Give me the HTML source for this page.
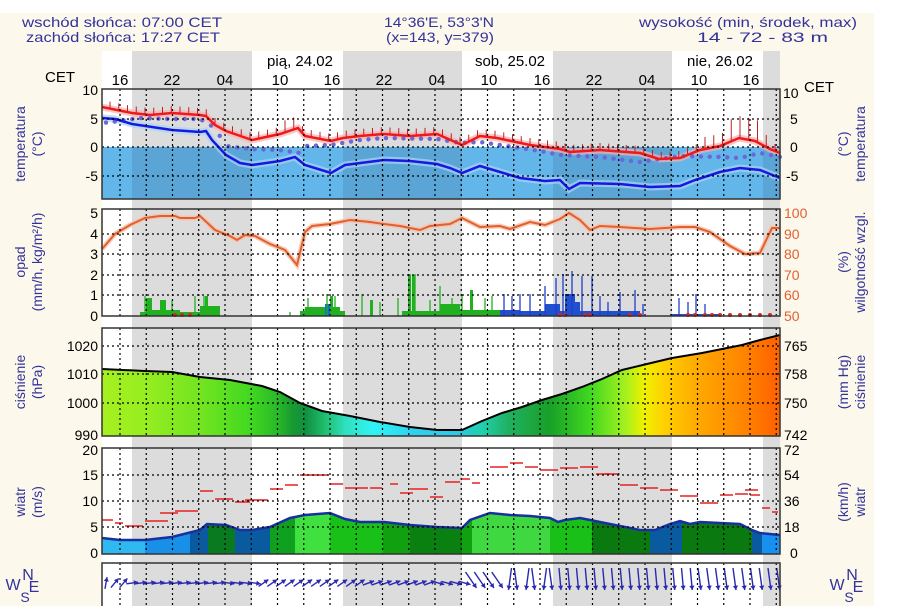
<!DOCTYPE html>
<html><head><meta charset="utf-8"><style>
html,body{margin:0;padding:0;background:#fff;}
svg{display:block;font-family:"Liberation Sans",sans-serif;}
</style></head><body>
<svg id="s" width="924" height="606" viewBox="0 0 924 606" xmlns="http://www.w3.org/2000/svg">
<defs>
<linearGradient id="pg" x1="102" x2="780" y1="0" y2="0" gradientUnits="userSpaceOnUse">
<stop offset="0" stop-color="#a6f020"/><stop offset="0.06" stop-color="#98ee20"/>
<stop offset="0.15" stop-color="#70e420"/><stop offset="0.22" stop-color="#40d820"/>
<stop offset="0.26" stop-color="#28b828"/><stop offset="0.28" stop-color="#189a30"/>
<stop offset="0.3" stop-color="#109040"/><stop offset="0.33" stop-color="#20c070"/>
<stop offset="0.36" stop-color="#30e0c0"/><stop offset="0.4" stop-color="#30f4f4"/>
<stop offset="0.46" stop-color="#30d0f0"/><stop offset="0.52" stop-color="#30c8e8"/>
<stop offset="0.56" stop-color="#20d0b0"/><stop offset="0.6" stop-color="#20b060"/>
<stop offset="0.66" stop-color="#18a028"/><stop offset="0.72" stop-color="#40d820"/>
<stop offset="0.77" stop-color="#a0f020"/><stop offset="0.8" stop-color="#f0f000"/>
<stop offset="0.83" stop-color="#ffd000"/><stop offset="0.88" stop-color="#ffa800"/>
<stop offset="0.94" stop-color="#ff8800"/><stop offset="1" stop-color="#ff6000"/>
</linearGradient>
</defs>
<rect x="0" y="13" width="874" height="593" fill="#fdf8ec"/>
<rect x="102" y="51" width="678" height="555" fill="#fff"/>
<g fill="#dcdcdc">
<rect x="132" y="51" width="120" height="555"/>
<rect x="343" y="51" width="119" height="555"/>
<rect x="553" y="51" width="119" height="555"/>
<rect x="763" y="51" width="17" height="555"/>
</g>
<g id="data"></g>
<g id="grid"></g>
<g fill="none" stroke="#333" stroke-width="1.5">
<rect x="102" y="89" width="678" height="110"/>
<rect x="102" y="209" width="678" height="107"/>
<rect x="102" y="328" width="678" height="108"/>
<rect x="102" y="448" width="678" height="106"/>
<rect x="102" y="563" width="678" height="50"/>
</g>
<g fill="#333399" font-size="14">
<text x="22" y="27" textLength="200" lengthAdjust="spacingAndGlyphs">wschód słońca: 07:00 CET</text>
<text x="26" y="42" textLength="194" lengthAdjust="spacingAndGlyphs">zachód słońca: 17:27 CET</text>
<text x="384" y="27" textLength="110" lengthAdjust="spacingAndGlyphs">14°36'E, 53°3'N</text>
<text x="386" y="42" textLength="108" lengthAdjust="spacingAndGlyphs">(x=143, y=379)</text>
<text x="639" y="27" textLength="218" lengthAdjust="spacingAndGlyphs">wysokość (min, środek, max)</text>
<text x="697" y="42" textLength="131" lengthAdjust="spacingAndGlyphs">14 - 72 - 83 m</text>
</g>
<g fill="#000" font-size="15" text-anchor="middle">
<text x="300" y="66">pią, 24.02</text>
<text x="510" y="66">sob, 25.02</text>
<text x="720" y="66">nie, 26.02</text>
<text x="120" y="85">16</text><text x="172" y="85">22</text><text x="225" y="85">04</text>
<text x="280" y="85">10</text><text x="332" y="85">16</text><text x="384" y="85">22</text>
<text x="437" y="85">04</text><text x="489" y="85">10</text><text x="542" y="85">16</text>
<text x="594" y="85">22</text><text x="647" y="85">04</text><text x="699" y="85">10</text>
<text x="751" y="85">16</text>
<text x="60" y="82" font-size="15">CET</text>
<text x="804" y="92" font-size="15" text-anchor="start">CET</text>
</g>
<g fill="#000" font-size="14" text-anchor="end">
<text x="98" y="95">10</text><text x="98" y="124">5</text><text x="98" y="152">0</text><text x="98" y="181">-5</text>
<text x="98" y="218">5</text><text x="98" y="239">4</text><text x="98" y="259">3</text><text x="98" y="280">2</text><text x="98" y="300">1</text><text x="98" y="321">0</text>
<text x="98" y="351">1020</text><text x="98" y="379">1010</text><text x="98" y="408">1000</text><text x="98" y="440">990</text>
<text x="98" y="455">20</text><text x="98" y="480">15</text><text x="98" y="506">10</text><text x="98" y="532">5</text><text x="98" y="558">0</text>
</g>
<g fill="#000" font-size="14" text-anchor="start">
<text x="783" y="98">10</text><text x="790" y="124">5</text><text x="790" y="152">0</text><text x="786" y="181">-5</text>
<text x="784" y="351">765</text><text x="784" y="379">758</text><text x="784" y="408">750</text><text x="784" y="440">742</text>
<text x="784" y="455">72</text><text x="784" y="480">54</text><text x="784" y="506">36</text><text x="784" y="532">18</text><text x="790" y="558">0</text>
</g>
<g fill="#e06030" font-size="14" text-anchor="start">
<text x="784" y="218">100</text><text x="784" y="239">90</text><text x="784" y="259">80</text><text x="784" y="280">70</text><text x="784" y="300">60</text><text x="784" y="321">50</text>
</g>
<g fill="#333399" font-size="14" text-anchor="middle">
<text transform="translate(25,144) rotate(-90)">temperatura</text>
<text transform="translate(42,144) rotate(-90)">(°C)</text>
<text transform="translate(25,262) rotate(-90)">opad</text>
<text transform="translate(42,262) rotate(-90)">(mm/h, kg/m²/h)</text>
<text transform="translate(25,382) rotate(-90)">ciśnienie</text>
<text transform="translate(42,382) rotate(-90)">(hPa)</text>
<text transform="translate(25,502) rotate(-90)">wiatr</text>
<text transform="translate(42,502) rotate(-90)">(m/s)</text>
<text transform="translate(848,144) rotate(-90)">(°C)</text>
<text transform="translate(865,144) rotate(-90)">temperatura</text>
<text transform="translate(848,262) rotate(-90)">(%)</text>
<text transform="translate(865,262) rotate(-90)">wilgotność wzgl.</text>
<text transform="translate(848,382) rotate(-90)">(mm Hg)</text>
<text transform="translate(865,382) rotate(-90)">ciśnienie</text>
<text transform="translate(848,502) rotate(-90)">(km/h)</text>
<text transform="translate(865,502) rotate(-90)">wiatr</text>
<text x="13" y="590" font-size="16">W</text><text x="28" y="580" font-size="16">N</text>
<text x="34" y="592" font-size="16">E</text><text x="25" y="602" font-size="14">S</text>
<text x="837" y="590" font-size="16">W</text><text x="852" y="580" font-size="16">N</text>
<text x="858" y="592" font-size="16">E</text><text x="849" y="602" font-size="14">S</text>
</g>
</svg>
<script>
var NS="http://www.w3.org/2000/svg";
function el(p,t,a){var e=document.createElementNS(NS,t);for(var k in a)e.setAttribute(k,a[k]);p.appendChild(e);return e;}
function pts(a){var s="";for(var i=0;i<a.length;i+=2)s+=(i?"L":"M")+a[i]+" "+a[i+1];return s;}
var D=document.getElementById("data"),G=document.getElementById("grid");
el(D,"rect",{x:102,y:147,width:678,height:52,fill:"#62b6ea"});
[[132,120],[343,119],[553,119],[763,17]].forEach(function(b){el(D,"rect",{x:b[0],y:147,width:b[1],height:52,fill:"rgba(40,60,90,0.14)"});});
var red=[102,107,132,113,150,115,172,113,200,115,206,116,215,125,226,131,252,140,280,134,298,128,305,136,331,141,343,138,360,136,384,134,410,136,437,134,462,145,480,136,497,138,530,145,560,149,570,152,600,150,640,153,659,159,680,158,700,150,720,146,739,138,755,141,770,149,780,153];
var blue=[102,118,115,119,132,124,172,130,200,132,206,131,212,140,226,155,240,163,252,165,280,161,295,157,305,165,331,173,345,165,384,160,410,161,437,164,450,168,462,173,480,166,500,172,520,178,545,181,560,180,569,189,580,183,620,184,650,187,680,186,695,180,720,172,740,168,760,170,780,178];
el(D,"path",{d:pts(red),fill:"none",stroke:"#f8b0b0","stroke-width":7,opacity:0.7});
el(D,"path",{d:pts(blue),fill:"none",stroke:"#a8d4f8","stroke-width":7,opacity:0.7});
var dots=[102,123,120,121,140,118,170,119,200,119,215,128,226,146,250,149,280,150,300,153,305,146,331,145,360,140,384,138,437,139,462,143,480,142,500,145,540,151,560,155,600,157,640,162,680,156,720,157,740,158,760,153,780,157];
function interp(a,x){for(var i=0;i<a.length-2;i+=2){if(x>=a[i]&&x<=a[i+2]){return a[i+1]+(a[i+3]-a[i+1])*(x-a[i])/(a[i+2]-a[i]);}}return a[a.length-1];}
for(var x=106;x<780;x+=8.75){el(D,"circle",{cx:x,cy:interp(dots,x),r:2.2,fill:"#6a68d8"});}
for(var x=110;x<780;x+=8.75){var y=interp(red,x);var h=(x>700&&x<775)?(x>725&&x<760?22:12):(x>280&&x<300?12:7);el(D,"line",{x1:x,y1:y,x2:x,y2:y-h,stroke:"#c02020","stroke-width":1});}
el(D,"path",{d:pts(red),fill:"none",stroke:"#f01818","stroke-width":2.5});
el(D,"path",{d:pts(blue),fill:"none",stroke:"#1818e0","stroke-width":2.5});
var bars=[[140,210,"#20b020",4],[146,152,"#20b020",18],[150,180,"#20b020",6],[160,166,"#20b020",16],[200,210,"#20b020",8],[200,220,"#20b020",10],[205,208,"#20b020",20],[300,345,"#20b020",5],[305,340,"#20b020",9],[325,333,"#1070d0",12],[330,333,"#20b020",20],[370,373,"#20b020",16],[402,470,"#20b020",5],[408,411,"#20b020",41],[412,415,"#20b020",41],[440,460,"#20b020",12],[460,520,"#20b020",6],[470,473,"#20b020",26],[500,520,"#2050d0",6],[520,640,"#2050d0",5],[545,560,"#2050d0",12],[565,575,"#2050d0",22],[570,580,"#2050d0",14],[600,630,"#2050d0",5],[670,720,"#2050d0",2]];
bars.forEach(function(b){el(D,"rect",{x:b[0],y:316-b[3],width:b[1]-b[0],height:b[3],fill:b[2]});});
var spikes=[[145,20,"#20b020"],[150,18,"#20b020"],[172,16,"#20b020"],[195,20,"#20b020"],[204,20,"#20b020"],[290,4,"#20b020"],[308,18,"#20b020"],[327,22,"#20b020"],[335,20,"#20b020"],[362,22,"#20b020"],[380,14,"#20b020"],[398,18,"#20b020"],[410,42,"#20b020"],[415,42,"#20b020"],[430,16,"#20b020"],[440,30,"#20b020"],[452,18,"#20b020"],[462,22,"#20b020"],[485,18,"#20b020"],[492,20,"#20b020"],[504,22,"#1f3fd0"],[512,20,"#1f3fd0"],[520,22,"#1f3fd0"],[530,22,"#1f3fd0"],[545,30,"#1f3fd0"],[556,38,"#1f3fd0"],[563,42,"#1f3fd0"],[572,45,"#1f3fd0"],[582,40,"#1f3fd0"],[592,40,"#1f3fd0"],[600,20,"#1f3fd0"],[608,14,"#1f3fd0"],[620,24,"#1f3fd0"],[635,26,"#1f3fd0"],[643,12,"#1f3fd0"],[679,18,"#1f3fd0"],[688,14,"#1f3fd0"],[696,22,"#1f3fd0"],[705,12,"#1f3fd0"]];
spikes.forEach(function(s){el(D,"line",{x1:s[0],y1:316,x2:s[0],y2:316-s[1],stroke:s[2],"stroke-width":1.3});});
[175,182,190,560,565,585,590,630,640,688,695,705,712,720,730,740,750,760,770].forEach(function(x){el(D,"circle",{cx:x,cy:315,r:2,fill:"#e02020"});});
var hum=[102,249,115,234,130,225,145,218,160,216,175,216,180,218,195,218,200,216,215,230,230,236,237,240,245,235,255,236,270,244,285,250,297,265,305,232,312,226,330,224,350,220,370,222,384,224,400,226,420,230,430,226,450,224,462,218,480,227,500,226,510,229,530,222,545,225,560,219,569,213,580,220,590,230,600,226,620,227,650,229,680,227,695,227,710,232,730,246,745,254,760,253,772,228,780,228];
el(D,"path",{d:pts(hum),fill:"none",stroke:"#f8c0a8","stroke-width":5,opacity:0.8});
el(D,"path",{d:pts(hum),fill:"none",stroke:"#e06030","stroke-width":2});
var pr=[102,369,145,371,172,372,200,377,230,380,262,386,280,392,300,403,322,411,350,416,380,422,410,427,437,430,462,430,482,421,502,413,522,407,542,400,562,394,582,387,602,379,622,370,647,364,672,358,702,353,722,349,742,345,760,340,780,335];
el(D,"path",{d:pts(pr)+"L780 436L102 436Z",fill:"url(#pg)"});
el(D,"path",{d:pts(pr),fill:"none",stroke:"#000","stroke-width":2});
var wm=[102,538,120,540,145,540,172,537,200,530,207,524,226,525,240,530,252,530,270,527,290,518,305,515,330,513,345,519,360,522,384,522,410,525,437,527,462,528,470,520,490,513,510,515,530,516,550,518,558,522,565,520,580,518,590,520,600,522,620,526,640,530,655,530,670,524,680,521,690,524,700,522,740,524,752,530,760,533,780,535];
var segs=[[102,145,"#30b8f0"],[145,190,"#1890e8"],[190,208,"#0a5aa0"],[208,235,"#0a7a20"],[235,270,"#0a5aa0"],[270,295,"#10a020"],[295,330,"#40e040"],[330,383,"#18c018"],[383,410,"#10a010"],[410,462,"#0a8010"],[462,472,"#10a010"],[472,550,"#40d840"],[550,592,"#18c018"],[592,650,"#0a7a10"],[650,682,"#0a5aa0"],[682,752,"#0a7a10"],[752,762,"#0a5aa0"],[762,780,"#1890f0"]];
var cp=el(D,"clipPath",{id:"wc"});el(cp,"path",{d:pts(wm)+"L780 554L102 554Z"});
var wg=el(D,"g",{"clip-path":"url(#wc)"});
segs.forEach(function(s){el(wg,"rect",{x:s[0],y:440,width:s[1]-s[0],height:120,fill:s[2]});});
el(D,"path",{d:pts(wm),fill:"none",stroke:"#1830a0","stroke-width":2.5});
var gu=[[102,115,520],[115,125,523],[125,145,526],[145,170,521],[160,180,513],[175,200,511],[200,215,491],[215,235,499],[235,252,502],[245,270,500],[270,285,489],[285,300,485],[300,330,475],[330,345,484],[345,370,488],[370,384,488],[390,400,484],[400,415,493],[410,430,489],[430,445,497],[445,462,482],[462,472,479],[472,482,483],[490,510,467],[510,525,463],[525,540,467],[540,560,470],[560,580,468],[580,600,467],[596,612,474],[605,620,474],[620,640,485],[640,660,488],[660,680,490],[680,700,496],[700,720,503],[720,735,495],[735,750,494],[750,762,495],[745,760,490],[762,772,508],[772,780,512]];
gu.forEach(function(g){el(D,"line",{x1:g[0],y1:g[2],x2:g[1]-2,y2:g[2],stroke:"#e82020","stroke-width":1.5});});
function arrow(x1,y1,x2,y2){
 el(D,"line",{x1:x1,y1:y1,x2:x2,y2:y2,stroke:"#2a2ab0","stroke-width":1.4});
 var r=Math.atan2(y2-y1,x2-x1),a1=r+2.6,a2=r-2.6;
 el(D,"path",{d:"M"+x2+" "+y2+"L"+(x2+Math.cos(a1)*5)+" "+(y2+Math.sin(a1)*5)+"L"+(x2+Math.cos(a2)*5)+" "+(y2+Math.sin(a2)*5)+"Z",fill:"#2a2ab0"});
}
for(var x=106,i=0;x<780;x+=8.75,i++){
 if(x<470){var ang;
  if(x<112)ang=-80; else if(x<125)ang=-50; else if(x<220)ang=-8; else if(x<262)ang=8; else if(x<360)ang=-35; else if(x<430)ang=-20; else ang=15;
  var r=ang*Math.PI/180,L=6;arrow(x-Math.cos(r)*L,583-Math.sin(r)*L,x+Math.cos(r)*L,583+Math.sin(r)*L);
 } else if(x<500){arrow(x-8,572,x+3,588);}
 else {var t=(i%2)?-3:3; if(x>560&&x<700)t=-2; if(x>700)t=-3;
  arrow(x+t,568,x,590);}
}
var hs=[[89,199,[119,147,176]],[209,316,[234,254,275,295]],[328,436,[346,374,403]],[448,554,[475,501,527]],[563,613,[]]];
hs.forEach(function(h){
 for(var x=120;x<780;x+=26.25)el(G,"line",{x1:x,y1:h[0],x2:x,y2:h[1],stroke:"#000","stroke-width":1.2,"stroke-dasharray":"2,3"});
 h[2].forEach(function(y){el(G,"line",{x1:102,y1:y,x2:780,y2:y,stroke:"#000","stroke-width":1.2,"stroke-dasharray":"2,3"});});
});
</script>
</body></html>
